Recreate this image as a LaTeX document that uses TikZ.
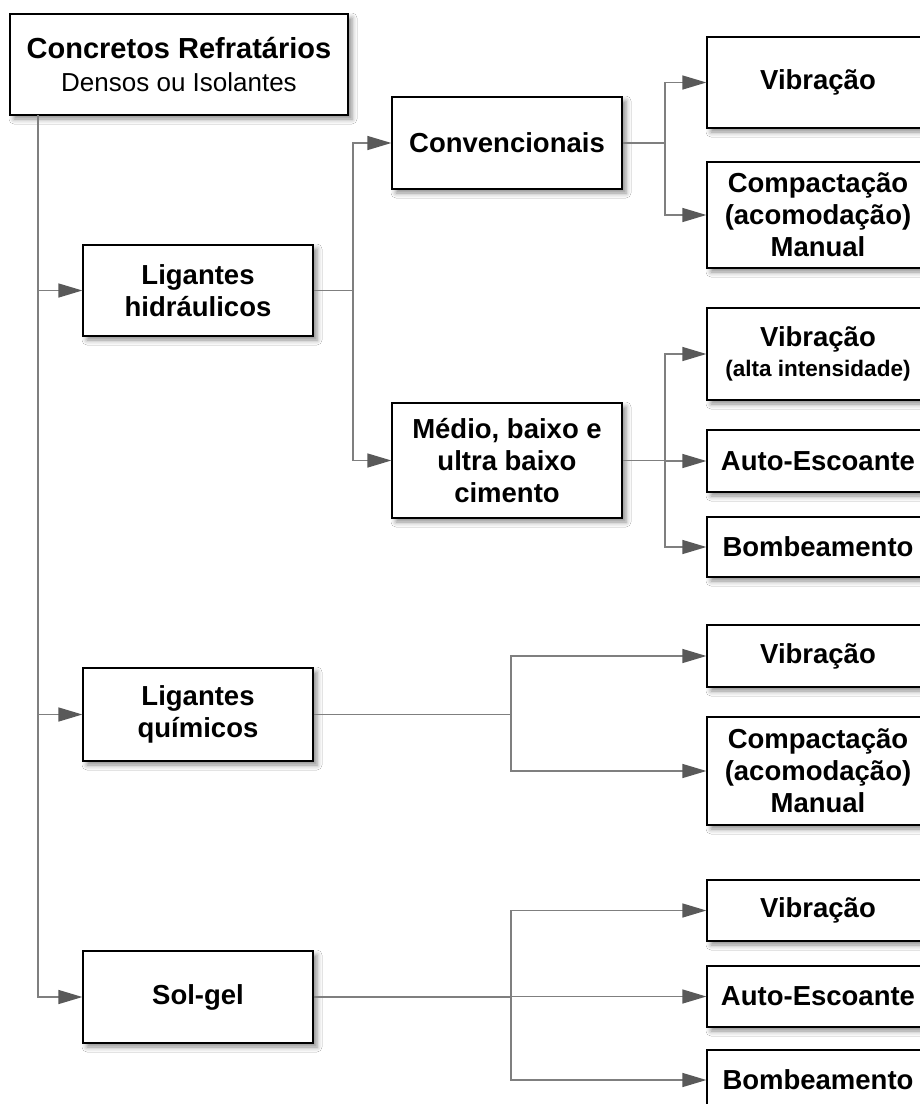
\documentclass[tikz,border=0pt]{standalone}
\usepackage{fontspec}
\setmainfont{Liberation Sans}
\usetikzlibrary{arrows.meta,shadows.blur}
\definecolor{linegray}{HTML}{7F7F7F}
\definecolor{tipgray}{HTML}{595959}
\tikzset{
  box/.style={draw=black, line width=1.3pt, fill=white, align=center,
    inner sep=0pt, font=\fontsize{27.5}{32}\selectfont\bfseries,
    blur shadow={shadow xshift=4pt, shadow yshift=-4pt, shadow blur radius=5pt, shadow opacity=45}},
  conn/.style={draw=linegray, line width=1.4pt,
    -{Triangle[length=24pt,width=14pt,color=tipgray]}},
  plain/.style={draw=linegray, line width=1.4pt}
}
\begin{document}
\begin{tikzpicture}[x=1pt,y=-1pt]
\useasboundingbox (0,0) rectangle (920,1104);
\clip (0,0) rectangle (920,1104);
\fill[white] (0,0) rectangle (920,1104);

% level 0
\node[box, minimum width=338pt, minimum height=101pt] (root) at (179,64.5)
  {{\fontsize{29}{34}\selectfont Concretos Refratários}\\[1pt]
   {\fontsize{26}{30}\selectfont\mdseries Densos ou Isolantes}};

% level 1
\node[box, minimum width=230pt, minimum height=91pt] (lh) at (198,290.5) {Ligantes\\hidráulicos};
\node[box, minimum width=230pt, minimum height=93pt] (lq) at (198,714.5) {Ligantes\\químicos};
\node[box, minimum width=230pt, minimum height=92pt] (sg) at (198,997) {Sol-gel};

% level 2
\node[box, minimum width=230pt, minimum height=92pt] (conv) at (507,143) {Convencionais};
\node[box, minimum width=230pt, minimum height=115pt] (medio) at (507,460.5) {Médio, baixo e\\ultra baixo\\cimento};

% right column
\node[box, minimum width=222pt, minimum height=91pt] (v1) at (818,82.5) {Vibração};
\node[box, minimum width=222pt, minimum height=106pt] (c1) at (818,215) {Compactação\\(acomodação)\\Manual};
\node[box, minimum width=222pt, minimum height=92pt] (va) at (818,354)
  {Vibração\\[-2pt]{\fontsize{22.5}{26}\selectfont (alta intensidade)}};
\node[box, minimum width=222pt, minimum height=62pt] (ae1) at (818,461) {Auto-Escoante};
\node[box, minimum width=222pt, minimum height=60pt] (b1) at (818,547) {Bombeamento};
\node[box, minimum width=222pt, minimum height=62pt] (v3) at (818,656) {Vibração};
\node[box, minimum width=222pt, minimum height=108pt] (c3) at (818,771) {Compactação\\(acomodação)\\Manual};
\node[box, minimum width=222pt, minimum height=61pt] (v4) at (818,910.5) {Vibração};
\node[box, minimum width=222pt, minimum height=61pt] (ae4) at (818,996.5) {Auto-Escoante};
\node[box, minimum width=222pt, minimum height=60pt] (b4) at (818,1080) {Bombeamento};

% branch coordinates
\coordinate (t0) at (38,115);
\coordinate (jh) at (353,290.5);
\coordinate (jc) at (665,143);
\coordinate (jm) at (665,460.5);
\coordinate (jq) at (511,714.5);
\coordinate (js) at (511,997);

% trunk
\draw[conn] (t0) |- (lh.west);
\draw[conn] (t0) |- (lq.west);
\draw[conn] (t0) |- (sg.west);

% ligantes hidraulicos
\draw[plain] (lh.east) -- (jh);
\draw[conn] (jh) |- (conv.west);
\draw[conn] (jh) |- (medio.west);

% convencionais
\draw[plain] (conv.east) -- (jc);
\draw[conn] (jc) |- (v1.west);
\draw[conn] (jc) |- (c1.west);

% medio
\draw[plain] (medio.east) -- (jm);
\draw[conn] (jm) |- (va.west);
\draw[conn] (jm) |- (ae1.west);
\draw[conn] (jm) |- (b1.west);

% ligantes quimicos
\draw[plain] (lq.east) -- (jq);
\draw[conn] (jq) |- (v3.west);
\draw[conn] (jq) |- (c3.west);

% sol-gel
\draw[plain] (sg.east) -- (js);
\draw[conn] (js) |- (v4.west);
\draw[conn] (js) |- (ae4.west);
\draw[conn] (js) |- (b4.west);
\end{tikzpicture}
\end{document}
